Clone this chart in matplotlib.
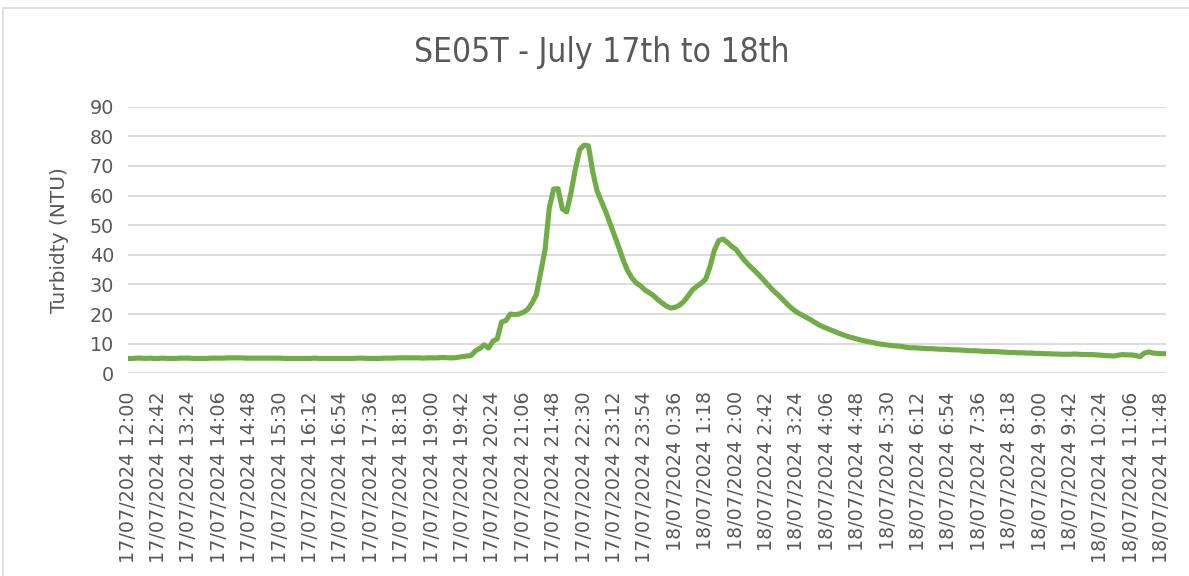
import numpy as np
import matplotlib.pyplot as plt
from matplotlib.patches import Rectangle

# Turbidity readings every 6 minutes, 17/07/2024 12:00 -> 18/07/2024 11:54
turbidez = [
    5.0, 5.0, 5.1, 5.1, 5.0, 5.1, 5.0, 5.0, 5.1, 5.0,
    5.0, 5.0, 5.1, 5.1, 5.1, 5.0, 5.0, 5.0, 5.0, 5.1,
    5.1, 5.1, 5.1, 5.2, 5.2, 5.2, 5.2, 5.1, 5.1, 5.1,
    5.1, 5.1, 5.1, 5.1, 5.1, 5.1, 5.0, 5.0, 5.0, 5.0,
    5.0, 5.0, 5.0, 5.1, 5.0, 5.0, 5.0, 5.0, 5.0, 5.0,
    5.0, 5.0, 5.0, 5.1, 5.1, 5.0, 5.0, 5.0, 5.0, 5.1,
    5.1, 5.1, 5.2, 5.2, 5.2, 5.2, 5.2, 5.2, 5.1, 5.2,
    5.2, 5.2, 5.3, 5.3, 5.2, 5.2, 5.4, 5.6, 5.8, 6.0,
    7.6, 8.4, 9.6, 8.5, 10.8, 11.6, 17.3, 17.8, 20.0, 19.8,
    20.0, 20.6, 21.5, 23.7, 26.5, 34.0, 41.5, 56.0, 62.2, 62.3,
    55.5, 54.5, 61.0, 69.0, 75.5, 77.0, 76.8, 68.0, 61.5, 58.0,
    54.5, 50.5, 46.6, 42.5, 38.2, 34.7, 32.2, 30.5, 29.5, 28.1,
    27.2, 26.2, 24.8, 23.7, 22.6, 22.0, 22.3, 23.0, 24.3, 26.2,
    28.2, 29.4, 30.4, 31.8, 36.0, 41.5, 44.8, 45.3, 44.2, 42.8,
    41.8, 39.8, 38.0, 36.4, 35.0, 33.6, 32.0, 30.4, 28.8, 27.3,
    26.0, 24.5, 23.0, 21.7, 20.6, 19.8, 19.0, 18.2, 17.3, 16.4,
    15.7, 15.1, 14.5, 13.9, 13.3, 12.8, 12.3, 11.9, 11.5, 11.1,
    10.8, 10.5, 10.2, 9.9, 9.7, 9.5, 9.3, 9.2, 9.1, 8.8,
    8.6, 8.6, 8.5, 8.4, 8.3, 8.3, 8.2, 8.1, 8.1, 8.0,
    7.9, 7.9, 7.8, 7.7, 7.6, 7.6, 7.5, 7.4, 7.4, 7.3,
    7.3, 7.2, 7.1, 7.0, 7.0, 6.9, 6.9, 6.8, 6.8, 6.7,
    6.7, 6.6, 6.6, 6.5, 6.5, 6.4, 6.4, 6.4, 6.5, 6.4,
    6.3, 6.3, 6.3, 6.2, 6.1, 6.0, 5.9, 5.8, 6.1, 6.3,
    6.2, 6.2, 6.0, 5.6, 6.8, 7.2, 6.8, 6.7, 6.6, 6.6,
]

# one label every 7 readings (42 min)
etiquetas = [
    "17/07/2024 12:00", "17/07/2024 12:42", "17/07/2024 13:24", "17/07/2024 14:06",
    "17/07/2024 14:48", "17/07/2024 15:30", "17/07/2024 16:12", "17/07/2024 16:54",
    "17/07/2024 17:36", "17/07/2024 18:18", "17/07/2024 19:00", "17/07/2024 19:42",
    "17/07/2024 20:24", "17/07/2024 21:06", "17/07/2024 21:48", "17/07/2024 22:30",
    "17/07/2024 23:12", "17/07/2024 23:54", "18/07/2024 0:36", "18/07/2024 1:18",
    "18/07/2024 2:00", "18/07/2024 2:42", "18/07/2024 3:24", "18/07/2024 4:06",
    "18/07/2024 4:48", "18/07/2024 5:30", "18/07/2024 6:12", "18/07/2024 6:54",
    "18/07/2024 7:36", "18/07/2024 8:18", "18/07/2024 9:00", "18/07/2024 9:42",
    "18/07/2024 10:24", "18/07/2024 11:06", "18/07/2024 11:48",
]
paso_etiqueta = 7

GRIS_TEXTO = "#595959"
GRIS_REJILLA = "#D9D9D9"
VERDE = "#70AD47"

x = np.arange(len(turbidez))

fig = plt.figure(figsize=(11.89, 5.76), dpi=100)
ax = fig.add_axes([0.1077, 0.352, 0.873, 0.4628])

# borde del area del grafico
fig.patches.append(Rectangle((3 / 1189, -0.01), 1.0, 1 - 8 / 576 + 0.01,
                             transform=fig.transFigure, fill=False,
                             edgecolor=GRIS_REJILLA, linewidth=1.2))

ax.plot(x, turbidez, color=VERDE, linewidth=3.7,
        solid_capstyle="round", solid_joinstyle="round", zorder=3)

ax.set_xlim(0, len(turbidez) - 1)
ax.set_ylim(0, 90)
ax.set_yticks(np.arange(0, 91, 10))
ax.set_xticks(np.arange(len(etiquetas)) * paso_etiqueta)
ax.set_xticklabels(etiquetas, rotation=90, ha="center", va="top")

ax.grid(axis="y", color=GRIS_REJILLA, linewidth=1.3)
ax.set_axisbelow(True)
for s in ax.spines.values():
    s.set_visible(False)
ax.tick_params(axis="both", length=0, labelsize=13.8, colors=GRIS_TEXTO)
ax.tick_params(axis="x", pad=13)
ax.tick_params(axis="y", pad=10)

ax.set_ylabel("Turbidty (NTU)", fontsize=14.5, color=GRIS_TEXTO, labelpad=15)
fig.text(0.506, 0.908, "SE05T - July 17th to 18th", ha="center", va="center",
         fontsize=24, color=GRIS_TEXTO, stretch="condensed", weight="light")

fig.savefig("out.png", dpi=100)
